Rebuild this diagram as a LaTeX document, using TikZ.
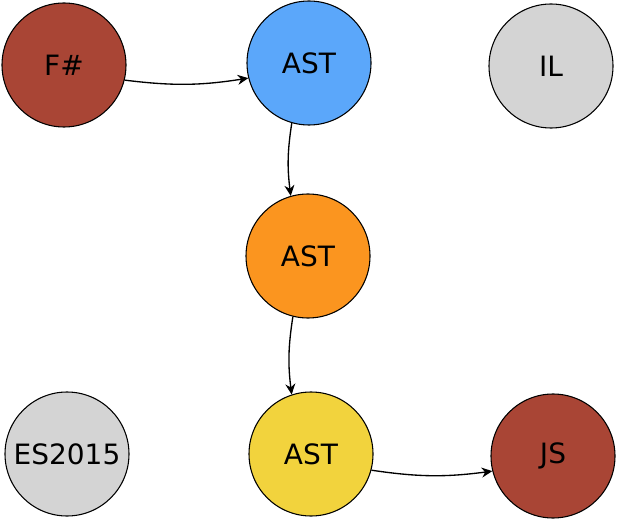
\documentclass[tikz,border=0pt]{standalone}
\usepackage{fontspec}
\setmainfont{DejaVu Sans}
\usetikzlibrary{arrows.meta}
\definecolor{fsred}{HTML}{A94535}
\definecolor{astblue}{HTML}{5BA7FA}
\definecolor{astorange}{HTML}{FB951F}
\definecolor{astyellow}{HTML}{F2D33D}
\definecolor{stagegray}{HTML}{D4D4D4}
\tikzset{
	stage/.style={circle,draw=black,line width=0.8pt,minimum size=93pt,inner sep=0pt,
		font=\fontsize{21}{25}\selectfont},
	flow/.style={-{Stealth[length=8pt,width=7.5pt]},line width=1pt}
}
\begin{document}
\begin{tikzpicture}[x=0.75pt,y=-0.75pt]
	\useasboundingbox (0,0) rectangle (617,520);
	\node (fsharp) at (64,65)   [stage,fill=fsred] {F\#};
	\node (ast1)   at (309,63)  [stage,fill=astblue] {AST};
	\node (il)     at (551,66)  [stage,fill=stagegray] {IL};
	
	\node (ast2)   at (308,256) [stage,fill=astorange] {AST};
	
	\node (es)     at (67,454)  [stage,fill=stagegray] {ES2015};
	\node (ast3)   at (311,454) [stage,fill=astyellow] {AST};
	\node (js)     at (553,456) [stage,fill=fsred] {JS};
	
	\draw [flow] (fsharp.-14) to[bend right=8] (ast1.194);
	\draw [flow] (ast1.-106) to[bend right=8] (ast2.106);
	\draw [flow] (ast2.-104) to[bend right=8] (ast3.108);
	\draw [flow] (ast3.-15) to[bend right=8] (js.194);
\end{tikzpicture}
\end{document}
